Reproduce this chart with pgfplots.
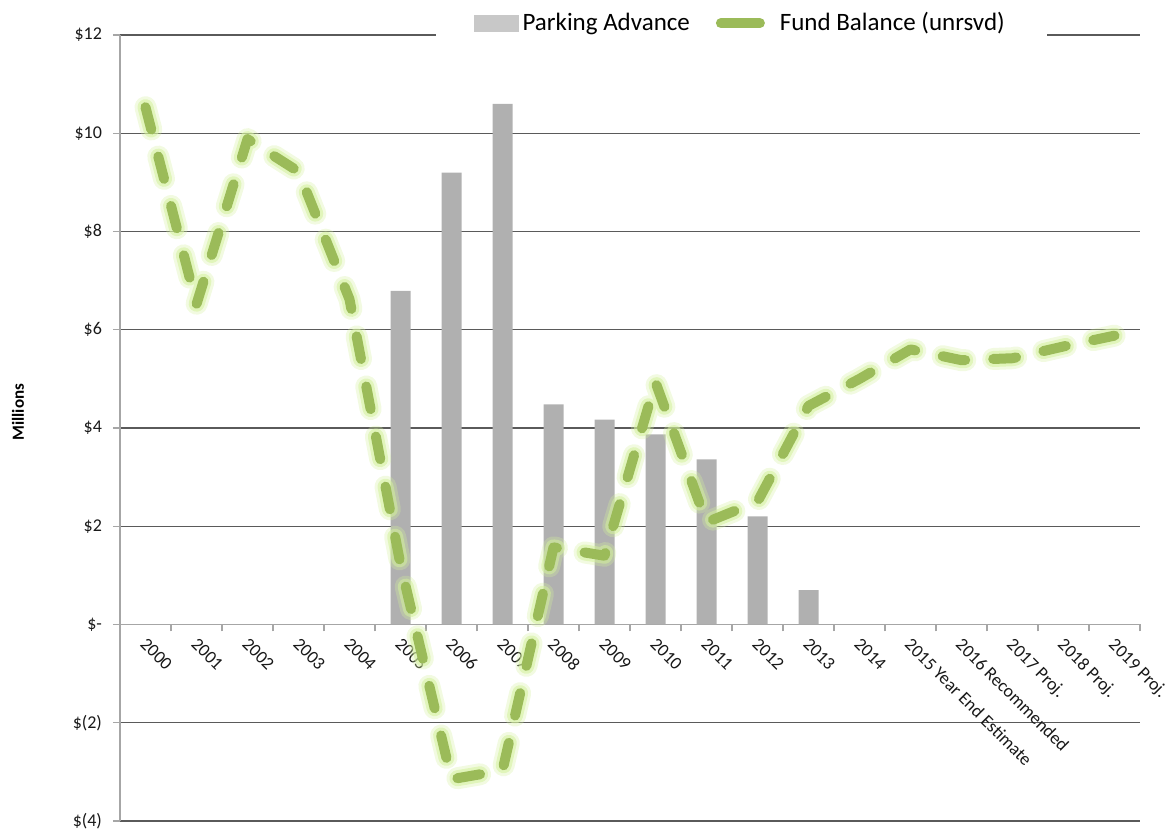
\documentclass[border=0pt]{standalone}
\usepackage{pgfplots}
\pgfplotsset{compat=1.18}
\usepackage{pgfplotstable}
\usepackage{fontspec}
\setmainfont{Carlito}

\definecolor{barg}{HTML}{B0B0B0}
\definecolor{legg}{HTML}{C8C8C8}
\definecolor{fund}{HTML}{9BBB59}
\definecolor{glow}{HTML}{D3F09C}
\definecolor{gridc}{HTML}{5A5A5A}
\definecolor{axc}{HTML}{A6A6A6}

% Parking advance (bars), $ millions
\pgfplotstableread{
x adv
5 6.79
6 9.20
7 10.60
8 4.48
9 4.17
10 3.87
11 3.36
12 2.20
13 0.70
}\advtable

% Fund balance (unreserved), $ millions
\pgfplotstableread{
x fund
0 10.53
1 6.52
2 9.88
3 9.22
4 6.62
5 1.22
6 -3.15
7 -2.97
8 1.57
9 1.40
10 4.93
11 2.08
12 2.50
13 4.45
14 5.00
15 5.60
16 5.38
17 5.42
18 5.66
19 5.88
}\fundtable

\begin{document}
\begin{tikzpicture}
\begin{axis}[
    scale only axis,
    width=510pt, height=393pt,
    xmin=-0.5, xmax=19.5,
    ymin=-4, ymax=12,
    axis x line=middle,
    axis y line=left,
    axis line style={-, draw=axc, line width=0.8pt},
    hide obscured x ticks=false,
    hide obscured y ticks=false,
    tick align=outside,
    xtick={0,...,19},
    xticklabels={2000,2001,2002,2003,2004,2005,2006,2007,2008,2009,2010,2011,2012,2013,2014,
      2015 Year End Estimate,2016 Recommended,2017 Proj.,2018 Proj.,2019 Proj.},
    major x tick style={draw=none},
    minor xtick={-0.5,0.5,...,19.5},
    minor x tick style={draw=axc, line width=0.6pt},
    minor tick length=3.5pt,
    major tick length=3.5pt,
    ytick={-4,-2,...,12},
    yticklabels={\$(4),\$(2),\$-\hspace{5pt},\$2,\$4,\$6,\$8,\$10,\$12},
    y tick style={draw=axc, line width=0.6pt},
    ymajorgrids,
    grid style={draw=gridc, line width=0.6pt},
    tick label style={font=\fontsize{9}{11}\selectfont, text=black!90},
    xticklabel style={rotate=-45, anchor=north west, inner sep=1pt, xshift=1.5pt},
    yticklabel style={xshift=-2pt},
    ylabel={Millions},
    ylabel style={font=\bfseries\fontsize{8.5}{10}\selectfont,
      at={([xshift=-51pt]axis description cs:0,0.52)}, anchor=center},
    legend columns=2,
    legend cell align=left,
    legend style={at={(0.609,1.015)}, anchor=center, draw=none, fill=white,
      font=\fontsize{12.5}{15}\selectfont, inner xsep=19pt, inner ysep=3pt,
      /tikz/every even column/.append style={column sep=11pt}},
    clip=false,
]
\coordinate (bl) at (rel axis cs:0,0);
\coordinate (tr) at (rel axis cs:1,1);

\addplot[ybar, bar width=10pt, fill=barg, draw=none,
  legend image code/.code={\fill[legg] (0pt,-4.25pt) rectangle (22.5pt,4.25pt);}]
  table[x=x, y=adv] {\advtable};
\addlegendentry{Parking Advance}

% soft glow under the dashed line
\addplot[forget plot, glow, opacity=0.3, line width=11pt, line cap=round, line join=round,
  dash pattern=on 11.5pt off 14pt] table[x=x, y=fund] {\fundtable};
\addplot[forget plot, glow, opacity=0.55, line width=8pt, line cap=round, line join=round,
  dash pattern=on 11.5pt off 14pt] table[x=x, y=fund] {\fundtable};

\addplot[fund, line width=5pt, line cap=round, line join=round,
  dash pattern=on 11.5pt off 14pt,
  legend image code/.code={
    \path[draw=none, fill=none] (0pt,0pt) -- (30pt,0pt);
    \draw[solid, fund, line width=5pt, line cap=round] (2.5pt,0pt) -- (22pt,0pt);}]
  table[x=x, y=fund] {\fundtable};
\addlegendentry{Fund Balance (unrsvd)}
\end{axis}
\pgfresetboundingbox
\path[use as bounding box] ([xshift=-60pt,yshift=-4pt]bl) rectangle ([xshift=13pt,yshift=17.5pt]tr);
\end{tikzpicture}
\end{document}
